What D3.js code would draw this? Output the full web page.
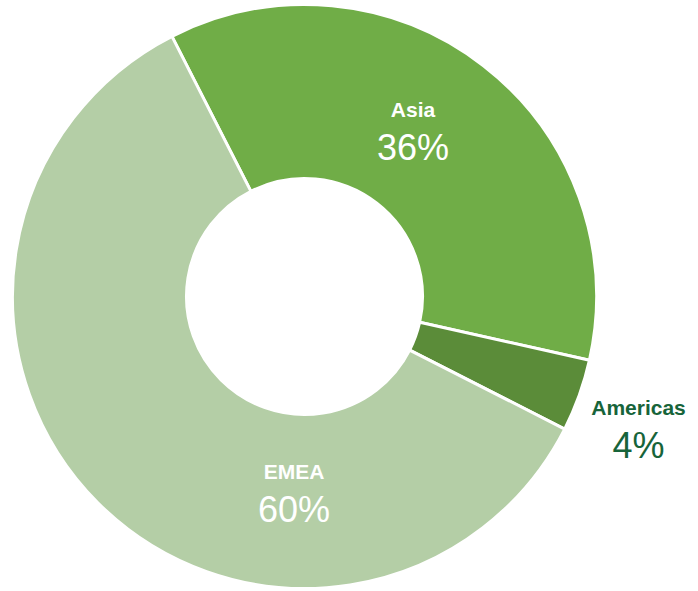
<!DOCTYPE html>
<html>
<head>
<meta charset="utf-8">
<script src="https://cdn.jsdelivr.net/npm/d3@7"></script>
<style>
    body { margin: 0; background: #fff; }
    svg { display: block; }
</style>
</head>
<body>
<div id="chart"></div>
<script>
// data
var regions = ["Asia", "Americas", "EMEA"];
var shares = [36, 4, 60];

// style
var colors = ["#70ad47", "#5b8c39", "#b4cea6"];
var labelColors = ["#ffffff", "#17643a", "#ffffff"];

var width = 698, height = 591;
var cx = 304.5, cy = 296.5;
var outerR = 292, innerR = 118;

// label anchor: angle (deg, clockwise from top) + radius from centre
var labelPos = [
    { a: 33.6, r: 196 },
    { a: 111.9, r: 360 },
    { a: 183, r: 199 }
];

var svg = d3.select("#chart").append("svg")
    .attr("width", width)
    .attr("height", height);

var g = svg.append("g")
    .attr("transform", `translate(${cx},${cy})`);

var pie = d3.pie()
    .sort(null)
    .value(d => d)
    .startAngle(-27 * Math.PI / 180)
    .endAngle(333 * Math.PI / 180);

var arc = d3.arc()
    .innerRadius(innerR)
    .outerRadius(outerR);

var arcs = pie(shares);

g.selectAll("path")
    .data(arcs)
    .enter()
    .append("path")
    .attr("d", arc)
    .attr("fill", (d, i) => colors[i])
    .attr("stroke", "#fff")
    .attr("stroke-width", 3)
    .attr("stroke-linejoin", "round");

var labels = g.selectAll("text.lbl")
    .data(arcs)
    .enter()
    .append("text")
    .attr("class", "lbl")
    .attr("text-anchor", "middle")
    .attr("font-family", "'Liberation Sans', Arial, sans-serif")
    .attr("fill", (d, i) => labelColors[i])
    .attr("transform", (d, i) => {
        var p = labelPos[i];
        var rad = p.a * Math.PI / 180;
        return `translate(${p.r * Math.sin(rad)},${-p.r * Math.cos(rad)})`;
    });

labels.append("tspan")
    .attr("x", 0)
    .attr("y", -16)
    .attr("font-weight", "bold")
    .attr("font-size", 21)
    .text((d, i) => regions[i]);

labels.append("tspan")
    .attr("x", 0)
    .attr("y", 27)
    .attr("font-size", 36)
    .text(d => d.data + "%");
</script>
</body>
</html>
